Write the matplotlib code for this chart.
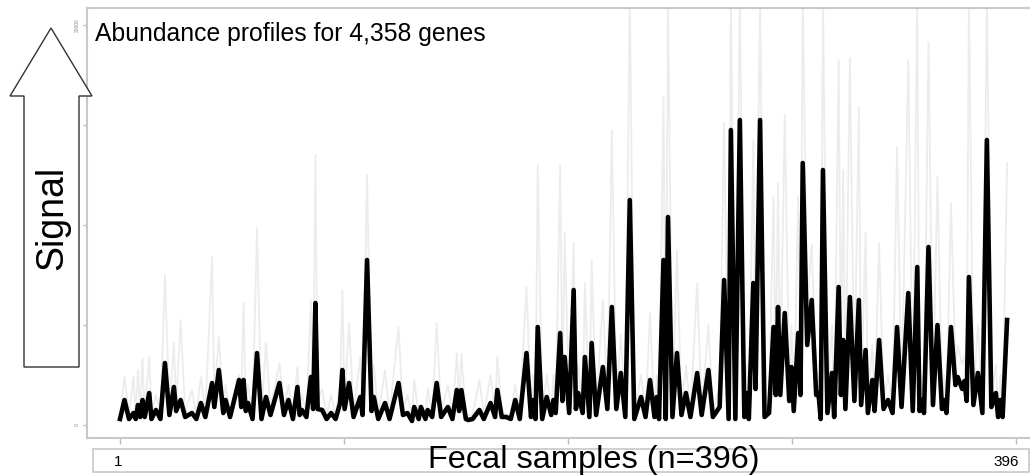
import matplotlib
matplotlib.use("Agg")
import matplotlib.pyplot as plt
import matplotlib.patches as mpatches

plt.rcParams['font.family'] = ['Liberation Sans', 'DejaVu Sans']

W, H = 1030, 475

# dense core of the profiles (sample index, signal)
core_samples = [1, 3, 5, 7, 8, 9, 10, 11, 12, 14, 15, 17, 19, 21, 23, 25, 26, 28, 30, 33,
                35, 37, 39, 42, 43, 45, 47, 48, 50, 54, 55, 56, 57, 58, 60, 62, 64, 66, 68, 72,
                74, 76, 78, 80, 81, 82, 84, 86, 87, 88, 89, 91, 93, 95, 97, 99, 100, 101, 103, 105,
                108, 109, 111, 113, 114, 116, 119, 121, 125, 127, 129, 131, 132, 134, 135, 137, 138, 140, 142, 144,
                147, 149, 151, 152, 153, 155, 156, 158, 161, 163, 166, 168, 169, 171, 173, 175, 177, 179, 182, 184,
                185, 186, 187, 189, 191, 193, 194, 195, 197, 198, 199, 201, 203, 204, 205, 207, 208, 210, 211, 213,
                216, 218, 220, 222, 224, 226, 228, 230, 233, 235, 237, 239, 240, 241, 243, 244, 245, 247, 249, 251,
                253, 255, 258, 260, 263, 265, 268, 270, 272, 273, 275, 277, 279, 280, 281, 283, 284, 286, 288, 290,
                292, 293, 294, 295, 297, 299, 300, 301, 303, 304, 305, 307, 309, 311, 312, 313, 314, 316, 318, 319,
                321, 322, 323, 324, 326, 328, 330, 331, 333, 334, 336, 337, 339, 341, 343, 345, 347, 349, 352, 354,
                356, 357, 358, 359, 361, 363, 365, 367, 368, 369, 371, 373, 374, 376, 377, 378, 379, 381, 383, 385,
                387, 389, 391, 392, 393, 394, 396]
core_signal = [300, 1250, 300, 600, 300, 1000, 400, 1250, 400, 1600, 300, 750, 300, 3100, 500, 1900, 700, 1250, 400, 600,
               300, 1100, 400, 2100, 900, 2750, 600, 1250, 400, 2250, 900, 2250, 700, 1100, 300, 3600, 300, 1400, 500, 2100,
               500, 1250, 300, 1900, 500, 750, 400, 2400, 800, 6100, 800, 750, 300, 600, 300, 1100, 2750, 800, 2100, 400,
               1400, 500, 8250, 700, 1400, 300, 1100, 300, 2100, 500, 600, 200, 900, 300, 900, 300, 750, 400, 2100, 400,
               900, 300, 1750, 700, 1750, 300, 250, 300, 750, 300, 1100, 400, 1750, 400, 400, 300, 1250, 300, 3600, 400,
               1250, 300, 4900, 300, 1400, 500, 1250, 600, 4600, 1200, 3400, 600, 6750, 800, 1600, 600, 3400, 400, 4100, 500,
               2900, 800, 5900, 800, 2600, 400, 11250, 300, 1400, 400, 2250, 400, 1400, 300, 8250, 300, 10400, 400, 3600, 500,
               1600, 400, 2600, 500, 2750, 400, 900, 7250, 300, 14750, 300, 15250, 400, 1600, 300, 7100, 1800, 15250, 400, 600,
               4900, 1500, 5900, 1500, 5600, 1200, 2900, 700, 4600, 1500, 13100, 4000, 6250, 1500, 1600, 300, 12750, 600, 2600, 400,
               6900, 1500, 4250, 800, 6400, 1200, 6250, 1000, 3750, 600, 2250, 700, 4250, 800, 1250, 600, 4900, 900, 6600, 700,
               7900, 700, 1250, 600, 8900, 1000, 5000, 800, 1250, 600, 4900, 2000, 2400, 1800, 2200, 1200, 7400, 1000, 2600, 600,
               14250, 900, 1600, 400, 1250, 400, 5250]

# faint upper envelope of the individual gene profiles
env_samples = [1, 3, 5, 7, 8, 9, 10, 11, 12, 14, 15, 17, 19, 21, 23, 25, 26, 28, 30, 33,
               35, 37, 39, 42, 43, 45, 47, 48, 50, 54, 55, 56, 57, 58, 60, 62, 64, 66, 68, 72,
               74, 76, 78, 80, 81, 82, 84, 86, 87, 88, 89, 91, 93, 95, 97, 99, 100, 101, 103, 105,
               108, 109, 111, 113, 114, 116, 119, 121, 125, 127, 129, 131, 132, 134, 137, 138, 140, 142, 144, 147,
               149, 151, 152, 153, 155, 158, 161, 163, 166, 168, 169, 171, 175, 177, 179, 182, 184, 185, 186, 187,
               189, 191, 193, 194, 195, 197, 198, 199, 201, 203, 204, 205, 207, 208, 210, 211, 213, 216, 218, 220,
               222, 224, 226, 228, 230, 233, 235, 237, 239, 240, 241, 243, 244, 245, 247, 249, 251, 253, 255, 258,
               260, 263, 265, 268, 270, 272, 273, 275, 277, 279, 280, 281, 283, 284, 286, 288, 290, 292, 293, 294,
               295, 297, 299, 300, 301, 303, 304, 305, 307, 309, 311, 312, 313, 314, 316, 318, 319, 321, 322, 323,
               324, 326, 328, 330, 331, 333, 334, 336, 337, 339, 341, 343, 345, 347, 349, 352, 354, 356, 357, 358,
               359, 361, 363, 365, 367, 368, 369, 371, 373, 374, 376, 377, 378, 379, 381, 383, 385, 387, 389, 391,
               392, 393, 394, 396]
env_signal = [500, 2400, 500, 2400, 500, 2750, 600, 3350, 600, 3400, 500, 1500, 500, 7500, 800, 4100, 1000, 5250, 600, 1750,
              500, 2400, 600, 8400, 1500, 4400, 900, 2000, 600, 2500, 1200, 6100, 1000, 2000, 500, 9850, 500, 4100, 800, 3100,
              800, 2000, 500, 2900, 700, 1500, 600, 6250, 1000, 13500, 1200, 1800, 500, 1500, 500, 2000, 6750, 1200, 5100, 600,
              3400, 700, 12500, 1000, 3000, 500, 2750, 500, 4900, 700, 1500, 400, 2250, 500, 500, 1800, 600, 5100, 600, 2000,
              500, 3600, 1000, 3550, 500, 500, 2250, 500, 2500, 600, 3400, 600, 500, 2000, 500, 6900, 700, 2500, 500, 13000,
              500, 2500, 700, 2500, 800, 13000, 2000, 9600, 800, 9100, 1200, 3000, 800, 7100, 700, 8250, 800, 6250, 1200, 14750,
              1200, 4500, 600, 21500, 500, 2500, 600, 5600, 600, 2500, 500, 16400, 500, 21500, 700, 8750, 800, 3000, 600, 7100,
              800, 5000, 600, 2000, 15100, 500, 21500, 500, 21500, 600, 3000, 500, 14250, 2500, 21500, 600, 1200, 11400, 2500, 12100,
              2500, 15500, 2000, 5000, 1000, 11400, 2500, 21500, 6000, 9000, 2500, 2500, 500, 21500, 1000, 5000, 600, 18250, 2500, 12750,
              1200, 18350, 2000, 15900, 1500, 9600, 1000, 4000, 1000, 9100, 1200, 2500, 900, 13900, 1500, 18250, 1000, 21500, 1000, 2500,
              900, 19150, 1500, 12400, 1200, 2500, 900, 11100, 3000, 4000, 3000, 3500, 2000, 21500, 1500, 5000, 900, 21500, 1500, 3000,
              600, 2500, 600, 13100]

yticks = [0, 5000, 10000, 15000, 20000]
ytick_labels = ['0', '', '', '', '20000']

fig = plt.figure(figsize=(W / 100, H / 100), dpi=100)
ax = fig.add_axes([87 / W, 1 - 438 / H, (W - 87) / W, (438 - 8) / H])

ax.plot(env_samples, env_signal, color='#ececec', lw=1.3, zorder=1)
ax.plot(core_samples, core_signal, color='black', lw=3.3, zorder=3)

ax.set_xlim(-13.7, 406.2)
ax.set_ylim(-650, 20850)

ax.set_xticks([1, 100.75, 200.5, 300.25, 400])
ax.set_xticklabels([])
ax.tick_params(axis='x', length=4, color='#bbbbbb', width=1)
ax.set_yticks(yticks)
ax.set_yticklabels(ytick_labels, rotation=90, fontsize=3.5, color='#888888', va='center')
ax.tick_params(axis='y', length=3, color='#bbbbbb', width=1, pad=2)
for side in ['left', 'top', 'bottom']:
    ax.spines[side].set_color('#c8c8c8')
    ax.spines[side].set_linewidth(1.5)
ax.spines['right'].set_visible(False)

# title inside the plot
fig.text(95 / W, 1 - 41 / H, 'Abundance profiles for 4,358 genes', fontsize=17.8, va='baseline', ha='left')

# bottom strip with the sample axis label
fig.patches.append(mpatches.Rectangle((93 / W, 1 - 472 / H), (W - 94) / W, 23 / H,
                                      transform=fig.transFigure, facecolor='white',
                                      edgecolor='#c8c8c8', lw=1.2))
fig.text(118 / W, 1 - 462 / H, '1', fontsize=11, ha='center', va='center')
fig.text(1006 / W, 1 - 462 / H, '396', fontsize=11, ha='center', va='center')
fig.text(594 / W, 1 - 460 / H, 'Fecal samples (n=396)', fontsize=23.4, ha='center', va='center')

# big hollow arrow with "Signal"
arrow_px = [(24, 367), (24, 96), (10, 96), (51, 28), (92, 96), (79, 96), (79, 367)]
arrow_pts = [(px / W, 1 - py / H) for px, py in arrow_px]
fig.patches.append(mpatches.Polygon(arrow_pts, closed=True, transform=fig.transFigure,
                                    facecolor='white', edgecolor='#333333', lw=1.0, zorder=5))
fig.text(52 / W, 1 - 218 / H, 'Signal', fontsize=27, rotation=90, ha='center', va='center', zorder=6)

fig.savefig('out.png', dpi=100)
